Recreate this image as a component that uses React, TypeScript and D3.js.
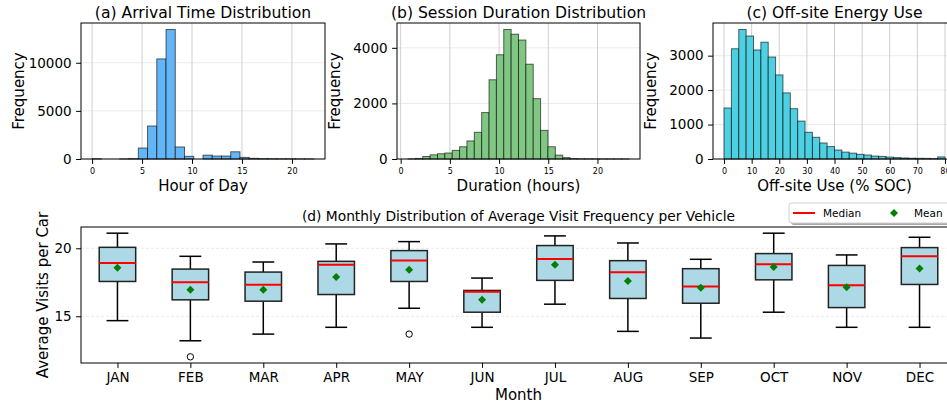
import React, { useEffect, useRef } from 'react';
import * as d3 from 'd3';

// histogram counts
const arrivalRange = [0, 22.2];
const arrivalCounts = [30, 0, 0, 5, 40, 1140, 3430, 10400, 13460, 1250, 280, 0, 400, 310, 310, 750, 170, 70, 40, 30, 20, 20, 10, 5];
const arrivalXTicks = [0, 5, 10, 15, 20];
const arrivalYTicks = [0, 5000, 10000];

const durationRange = [0.75, 23.2];
const durationCounts = [5, 20, 90, 150, 190, 215, 310, 440, 650, 960, 1670, 2850, 3750, 4660, 4490, 4280, 3410, 2170, 1030, 440, 140, 50, 15, 8, 5, 3, 2, 1, 1, 2];
const durationXTicks = [0, 5, 10, 15, 20];
const durationYTicks = [0, 2000, 4000];

const offsiteRange = [0, 80];
const offsiteCounts = [1480, 3200, 3760, 3570, 3165, 3390, 2960, 2440, 1920, 1460, 1100, 775, 630, 465, 360, 260, 200, 170, 135, 115, 85, 75, 55, 40, 30, 22, 20, 18, 12, 60];
const offsiteXTicks = [0, 10, 20, 30, 40, 50, 60, 70, 80];
const offsiteYTicks = [0, 1000, 2000, 3000];

// monthly box plot stats
const months = ['JAN', 'FEB', 'MAR', 'APR', 'MAY', 'JUN', 'JUL', 'AUG', 'SEP', 'OCT', 'NOV', 'DEC'];
const whiskerLow = [14.68, 13.2, 13.69, 14.19, 15.59, 14.19, 15.89, 13.89, 13.4, 15.3, 14.19, 14.19];
const q1 = [17.56, 16.21, 16.11, 16.6, 17.56, 15.3, 17.64, 16.31, 15.96, 17.68, 15.64, 17.34];
const median = [18.92, 17.51, 17.32, 18.79, 19.11, 16.8, 19.21, 18.23, 17.19, 18.82, 17.29, 19.41];
const q3 = [20.07, 18.47, 18.25, 19.04, 19.83, 16.9, 20.2, 19.09, 18.5, 19.61, 18.74, 20.05];
const whiskerHigh = [21.11, 19.41, 18.99, 20.32, 20.49, 17.81, 20.91, 20.39, 19.19, 21.11, 19.51, 20.81];
const means = [18.57, 16.95, 16.95, 17.88, 18.42, 16.21, 18.79, 17.59, 17.09, 18.62, 17.14, 18.52];
const outliers = [[], [12.02], [], [], [13.69], [], [], [], [], [], [], []];
const boxYTicks = [15, 20];

const FONT = 'DejaVu Sans, sans-serif';
const TICK = 4.9;

function drawHist(svg, o) {
    const { left, right, top, bottom, counts, range, fill, xTicks, yTicks, title, xLabel } = o;
    const n = counts.length;
    const edges = d3.range(n + 1).map((i) => range[0] + (i * (range[1] - range[0])) / n);
    const pad = 0.05 * (range[1] - range[0]);
    const x = d3.scaleLinear().domain([range[0] - pad, range[1] + pad]).range([left, right]);
    const y = d3.scaleLinear().domain([0, d3.max(counts) * 1.05]).range([bottom, top]);
    const g = svg.append('g');

    // grid
    g.selectAll('.hg').data(yTicks).join('line')
        .attr('x1', left).attr('x2', right)
        .attr('y1', (d) => y(d)).attr('y2', (d) => y(d))
        .attr('stroke', '#ebebeb').attr('stroke-width', 1);
    g.selectAll('.vg').data(xTicks).join('line')
        .attr('x1', (d) => x(d)).attr('x2', (d) => x(d))
        .attr('y1', top).attr('y2', bottom)
        .attr('stroke', '#cfcfcf').attr('stroke-width', 1);

    // bars
    g.selectAll('.bar').data(counts).join('rect')
        .attr('x', (d, i) => x(edges[i]))
        .attr('width', (d, i) => x(edges[i + 1]) - x(edges[i]))
        .attr('y', (d) => y(d))
        .attr('height', (d) => bottom - y(d))
        .attr('fill', fill)
        .attr('stroke', 'rgba(0,0,0,0.6)')
        .attr('stroke-width', 1);

    // frame
    g.append('rect').attr('x', left).attr('y', top).attr('width', right - left).attr('height', bottom - top)
        .attr('fill', 'none').attr('stroke', '#000').attr('stroke-width', 1);

    const xa = g.append('g').attr('transform', `translate(0,${bottom})`)
        .call(d3.axisBottom(x).tickValues(xTicks).tickFormat(d3.format('d')).tickSize(TICK).tickPadding(4));
    xa.select('.domain').remove();
    xa.selectAll('text').attr('font-size', 8).attr('font-family', FONT).attr('fill', '#000');

    const ya = g.append('g').attr('transform', `translate(${left},0)`)
        .call(d3.axisLeft(y).tickValues(yTicks).tickFormat(d3.format('d')).tickSize(TICK).tickPadding(4.5));
    ya.select('.domain').remove();
    ya.selectAll('text').attr('font-size', 13.5).attr('font-family', FONT).attr('fill', '#000');

    g.append('text').attr('x', (left + right) / 2).attr('y', top - 5).attr('text-anchor', 'middle')
        .attr('font-size', 15.6).attr('font-family', FONT).text(title);
    g.append('text').attr('x', (left + right) / 2).attr('y', bottom + 32).attr('text-anchor', 'middle')
        .attr('font-size', 15).attr('font-family', FONT).text(xLabel);
    g.append('text').attr('transform', `translate(${left - 57},${(top + bottom) / 2}) rotate(-90)`)
        .attr('text-anchor', 'middle').attr('font-size', 15).attr('font-family', FONT).text('Frequency');
}

export default function App() {
    const svgRef = useRef(null);

    useEffect(() => {
        const svg = d3.select(svgRef.current);
        svg.selectAll('*').remove();

        drawHist(svg, {
            left: 81, right: 325, top: 23, bottom: 159, counts: arrivalCounts, range: arrivalRange,
            fill: '#64B5F6', xTicks: arrivalXTicks, yTicks: arrivalYTicks,
            title: '(a) Arrival Time Distribution', xLabel: 'Hour of Day',
        });
        drawHist(svg, {
            left: 397, right: 640, top: 23, bottom: 159, counts: durationCounts, range: durationRange,
            fill: '#81C784', xTicks: durationXTicks, yTicks: durationYTicks,
            title: '(b) Session Duration Distribution', xLabel: 'Duration (hours)',
        });
        drawHist(svg, {
            left: 713, right: 956, top: 23, bottom: 159, counts: offsiteCounts, range: offsiteRange,
            fill: '#4DD0E1', xTicks: offsiteXTicks, yTicks: offsiteYTicks,
            title: '(c) Off-site Energy Use', xLabel: 'Off-site Use (% SOC)',
        });

        // box plot
        const left = 81, right = 956, top = 227, bottom = 363;
        const allVals = [...whiskerLow, ...whiskerHigh, ...outliers.flat()];
        const lo = d3.min(allVals), hi = d3.max(allVals);
        const yp = 0.05 * (hi - lo);
        const x = d3.scaleLinear().domain([0.5, months.length + 0.5]).range([left, right]);
        const y = d3.scaleLinear().domain([lo - yp, hi + yp]).range([bottom, top]);
        const bw = x(1.25) - x(1);
        const cw = x(1.15) - x(1);
        const g = svg.append('g');

        g.selectAll('.bg').data(boxYTicks).join('line')
            .attr('x1', left).attr('x2', right)
            .attr('y1', (d) => y(d)).attr('y2', (d) => y(d))
            .attr('stroke', '#e3e3e3').attr('stroke-dasharray', '3,2').attr('stroke-width', 0.8);

        const boxes = g.selectAll('.box').data(months).join('g');
        boxes.append('line').attr('x1', (d, i) => x(i + 1)).attr('x2', (d, i) => x(i + 1))
            .attr('y1', (d, i) => y(q3[i])).attr('y2', (d, i) => y(whiskerHigh[i]))
            .attr('stroke', '#000').attr('stroke-width', 1.5);
        boxes.append('line').attr('x1', (d, i) => x(i + 1)).attr('x2', (d, i) => x(i + 1))
            .attr('y1', (d, i) => y(q1[i])).attr('y2', (d, i) => y(whiskerLow[i]))
            .attr('stroke', '#000').attr('stroke-width', 1.5);
        boxes.append('line').attr('x1', (d, i) => x(i + 1) - cw).attr('x2', (d, i) => x(i + 1) + cw)
            .attr('y1', (d, i) => y(whiskerHigh[i])).attr('y2', (d, i) => y(whiskerHigh[i]))
            .attr('stroke', '#000').attr('stroke-width', 1.5);
        boxes.append('line').attr('x1', (d, i) => x(i + 1) - cw).attr('x2', (d, i) => x(i + 1) + cw)
            .attr('y1', (d, i) => y(whiskerLow[i])).attr('y2', (d, i) => y(whiskerLow[i]))
            .attr('stroke', '#000').attr('stroke-width', 1.5);
        boxes.append('rect').attr('x', (d, i) => x(i + 1) - bw).attr('width', 2 * bw)
            .attr('y', (d, i) => y(q3[i])).attr('height', (d, i) => y(q1[i]) - y(q3[i]))
            .attr('fill', '#ADD8E6').attr('stroke', '#222').attr('stroke-width', 1.5);
        boxes.append('line').attr('x1', (d, i) => x(i + 1) - bw).attr('x2', (d, i) => x(i + 1) + bw)
            .attr('y1', (d, i) => y(median[i])).attr('y2', (d, i) => y(median[i]))
            .attr('stroke', '#ff0000').attr('stroke-width', 2);
        const dm = 4;
        boxes.append('path')
            .attr('d', (d, i) => {
                const cx = x(i + 1), cy = y(means[i]);
                return `M${cx},${cy - dm}L${cx + dm},${cy}L${cx},${cy + dm}L${cx - dm},${cy}Z`;
            })
            .attr('fill', '#008000');
        boxes.each(function (d, i) {
            d3.select(this).selectAll('circle').data(outliers[i]).join('circle')
                .attr('cx', x(i + 1)).attr('cy', (v) => y(v)).attr('r', 3.2)
                .attr('fill', 'none').attr('stroke', '#000').attr('stroke-width', 1);
        });

        g.append('rect').attr('x', left).attr('y', top).attr('width', right - left).attr('height', bottom - top)
            .attr('fill', 'none').attr('stroke', '#000').attr('stroke-width', 1);

        const xa = g.append('g').attr('transform', `translate(0,${bottom})`)
            .call(d3.axisBottom(x).tickValues(d3.range(1, months.length + 1)).tickFormat((d) => months[d - 1])
                .tickSize(TICK).tickPadding(4.5));
        xa.select('.domain').remove();
        xa.selectAll('text').attr('font-size', 13.5).attr('font-family', FONT).attr('fill', '#000');

        const ya = g.append('g').attr('transform', `translate(${left},0)`)
            .call(d3.axisLeft(y).tickValues(boxYTicks).tickSize(TICK).tickPadding(4.5));
        ya.select('.domain').remove();
        ya.selectAll('text').attr('font-size', 13.5).attr('font-family', FONT).attr('fill', '#000');

        g.append('text').attr('x', (left + right) / 2).attr('y', top - 6).attr('text-anchor', 'middle')
            .attr('font-size', 13.8).attr('font-family', FONT)
            .text('(d) Monthly Distribution of Average Visit Frequency per Vehicle');
        g.append('text').attr('x', (left + right) / 2).attr('y', 400).attr('text-anchor', 'middle')
            .attr('font-size', 15).attr('font-family', FONT).text('Month');
        g.append('text').attr('transform', `translate(${left - 33},${(top + bottom) / 2}) rotate(-90)`)
            .attr('text-anchor', 'middle').attr('font-size', 15).attr('font-family', FONT).text('Average Visits per Car');

        // legend
        const lg = svg.append('g').attr('transform', 'translate(789,203)');
        lg.append('rect').attr('x', 2).attr('y', 2).attr('width', 170).attr('height', 20).attr('rx', 3)
            .attr('fill', 'rgba(0,0,0,0.35)');
        lg.append('rect').attr('x', 0).attr('y', 0).attr('width', 170).attr('height', 20).attr('rx', 3)
            .attr('fill', '#fff').attr('stroke', '#d0d0d0').attr('stroke-width', 1);
        lg.append('line').attr('x1', 4).attr('x2', 26).attr('y1', 10).attr('y2', 10)
            .attr('stroke', '#ff0000').attr('stroke-width', 2);
        lg.append('text').attr('x', 34).attr('y', 14).attr('font-size', 10.5).attr('font-family', FONT).text('Median');
        lg.append('path').attr('d', `M105,${10 - dm}L${105 + dm},10L105,${10 + dm}L${105 - dm},10Z`).attr('fill', '#008000');
        lg.append('text').attr('x', 125).attr('y', 14).attr('font-size', 10.5).attr('font-family', FONT).text('Mean');
    }, []);

    return (
        <svg
            ref={svgRef}
            width={947}
            height={407}
            style={{ position: 'absolute', left: 0, top: 0, background: '#fff', fontFamily: FONT }}
        />
    );
}
